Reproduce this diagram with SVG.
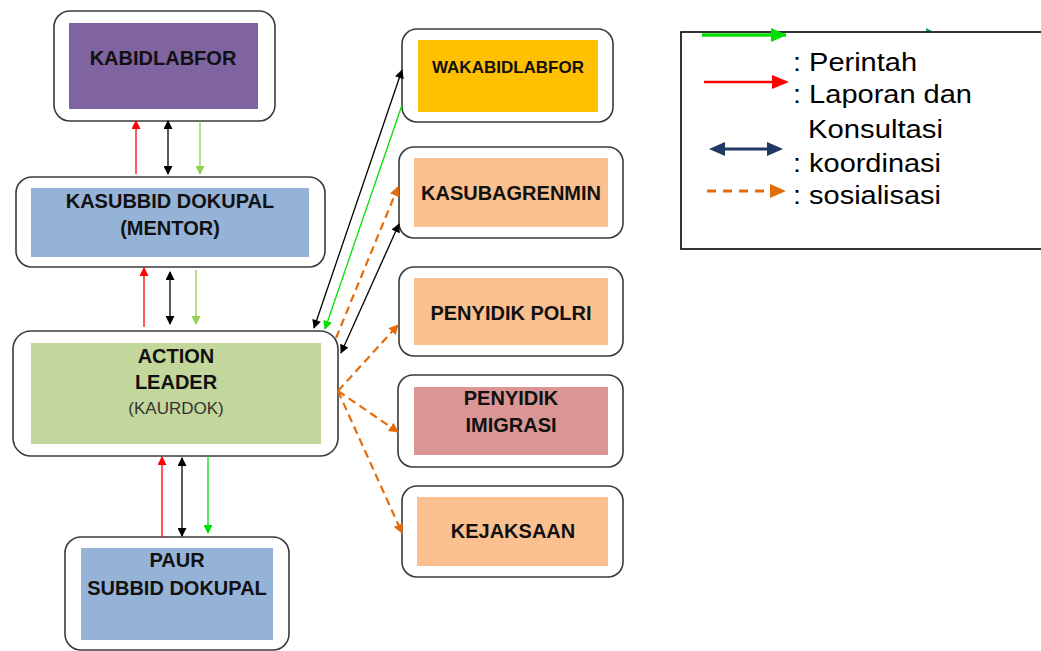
<svg xmlns="http://www.w3.org/2000/svg" width="1041" height="651" viewBox="0 0 1041 651">
<style>
.outer{fill:#fff;stroke:#3a3a3a;stroke-width:1.6}
.t{font-family:"Liberation Sans",Arial,sans-serif;font-weight:bold;font-size:20px;fill:#111;text-anchor:middle}
.s{font-family:"Liberation Sans",Arial,sans-serif;font-size:17px;fill:#333;text-anchor:middle}
.lg{font-family:"Liberation Sans",Arial,sans-serif;font-size:25px;fill:#000}
.red{stroke:#ff0000;stroke-width:1.3;fill:none}
.blk{stroke:#000;stroke-width:1.3;fill:none}
.lgr{stroke:#92d050;stroke-width:1.3;fill:none}
.bgr{stroke:#00e000;stroke-width:1.3;fill:none}
.org{stroke:#e46c0a;stroke-width:2.2;stroke-dasharray:8,5;fill:none}
</style>
<defs>
<marker id="mr" viewBox="0 0 10 10" refX="9" refY="5" markerWidth="10" markerHeight="9" markerUnits="userSpaceOnUse" orient="auto-start-reverse"><path d="M0,0L10,5L0,10z" fill="#ff0000"/></marker>
<marker id="mk" viewBox="0 0 10 10" refX="9" refY="5" markerWidth="10" markerHeight="9" markerUnits="userSpaceOnUse" orient="auto-start-reverse"><path d="M0,0L10,5L0,10z" fill="#000"/></marker>
<marker id="mlg" viewBox="0 0 10 10" refX="9" refY="5" markerWidth="10" markerHeight="9" markerUnits="userSpaceOnUse" orient="auto-start-reverse"><path d="M0,0L10,5L0,10z" fill="#92d050"/></marker>
<marker id="mbg" viewBox="0 0 10 10" refX="9" refY="5" markerWidth="10" markerHeight="9" markerUnits="userSpaceOnUse" orient="auto-start-reverse"><path d="M0,0L10,5L0,10z" fill="#00e000"/></marker>
<marker id="mo" viewBox="0 0 10 10" refX="9" refY="5" markerWidth="10" markerHeight="10" markerUnits="userSpaceOnUse" orient="auto-start-reverse"><path d="M0,0L10,5L0,10z" fill="#e46c0a"/></marker>
</defs>
<rect width="1041" height="651" fill="#fff"/>

<g id="kabidlabfor">
<rect class="outer" x="54" y="11" width="221" height="110" rx="16"/>
<rect x="69" y="23" width="189" height="86" fill="#8064a2"/>
<text class="t" x="163" y="65">KABIDLABFOR</text>
</g>
<g id="kasubbid">
<rect class="outer" x="16" y="177" width="309" height="90" rx="16"/>
<rect x="31" y="188" width="278" height="69" fill="#95b3d7"/>
<text class="t" x="170" y="208">KASUBBID DOKUPAL</text>
<text class="t" x="170" y="235">(MENTOR)</text>
</g>
<g id="action-leader">
<rect class="outer" x="13" y="331" width="325" height="125" rx="18"/>
<rect x="31" y="343" width="290" height="101" fill="#c3d69b"/>
<text class="t" x="176" y="363">ACTION</text>
<text class="t" x="176" y="389">LEADER</text>
<text class="s" x="176" y="414">(KAURDOK)</text>
</g>
<g id="paur">
<rect class="outer" x="65" y="537" width="224" height="113" rx="16"/>
<rect x="81" y="548" width="192" height="92" fill="#95b3d7"/>
<text class="t" x="177" y="567">PAUR</text>
<text class="t" x="177" y="595">SUBBID DOKUPAL</text>
</g>
<g id="wakabidlabfor">
<rect class="outer" x="402" y="29" width="211" height="93" rx="15"/>
<rect x="418" y="40" width="180" height="72" fill="#ffc000"/>
<text class="t" x="508" y="73" style="font-size:17px">WAKABIDLABFOR</text>
</g>
<g id="kasubagrenmin">
<rect class="outer" x="399" y="147" width="224" height="91" rx="15"/>
<rect x="414" y="158" width="194" height="69" fill="#fac090"/>
<text class="t" x="511" y="200">KASUBAGRENMIN</text>
</g>
<g id="penyidik-polri">
<rect class="outer" x="399" y="267" width="224" height="89" rx="15"/>
<rect x="414" y="278" width="194" height="67" fill="#fac090"/>
<text class="t" x="511" y="320">PENYIDIK POLRI</text>
</g>
<g id="penyidik-imigrasi">
<rect class="outer" x="398" y="375" width="225" height="92" rx="15"/>
<rect x="414" y="387" width="194" height="68" fill="#d99694"/>
<text class="t" x="511" y="405">PENYIDIK</text>
<text class="t" x="511" y="432">IMIGRASI</text>
</g>
<g id="kejaksaan">
<rect class="outer" x="402" y="486" width="221" height="91" rx="15"/>
<rect x="417" y="497" width="191" height="69" fill="#fac090"/>
<text class="t" x="513" y="538">KEJAKSAAN</text>
</g>

<g id="connectors">
<line class="red" x1="136" y1="174" x2="136" y2="121" marker-end="url(#mr)"/>
<line class="blk" x1="168" y1="121" x2="168" y2="174" marker-start="url(#mk)" marker-end="url(#mk)"/>
<line class="lgr" x1="200" y1="121" x2="200" y2="174" marker-end="url(#mlg)"/>
<line class="red" x1="144" y1="327" x2="144" y2="268" marker-end="url(#mr)"/>
<line class="blk" x1="170" y1="272" x2="170" y2="324" marker-start="url(#mk)" marker-end="url(#mk)"/>
<line class="lgr" x1="196" y1="270" x2="196" y2="324" marker-end="url(#mlg)"/>
<line class="red" x1="162" y1="537" x2="162" y2="457" marker-end="url(#mr)"/>
<line class="blk" x1="182" y1="458" x2="182" y2="536" marker-start="url(#mk)" marker-end="url(#mk)"/>
<line class="bgr" x1="208" y1="456" x2="208" y2="533" marker-end="url(#mbg)"/>
<line class="blk" x1="314" y1="328" x2="402" y2="70" marker-start="url(#mk)" marker-end="url(#mk)"/>
<line class="bgr" x1="402" y1="105" x2="325" y2="329" marker-end="url(#mbg)"/>
<line class="org" x1="336" y1="338" x2="398" y2="187" marker-end="url(#mo)"/>
<line class="blk" x1="341" y1="353" x2="399" y2="224" marker-start="url(#mk)" marker-end="url(#mk)"/>
<line class="org" x1="338" y1="391" x2="398" y2="325" marker-end="url(#mo)"/>
<line class="org" x1="338" y1="391" x2="398" y2="432" marker-end="url(#mo)"/>
<line class="org" x1="338" y1="391" x2="402" y2="533" marker-end="url(#mo)"/>
</g>

<g id="legend">
<polygon points="926,28 932,31 926,32" fill="#00b050"/>
<rect x="681" y="32" width="400" height="217" fill="none" stroke="#000" stroke-width="1.6"/>
<line x1="702" y1="35" x2="786" y2="35" stroke="#00e000" stroke-width="3.5"/>
<path d="M771,28L787,35L771,42z" fill="#00e000"/>
<line x1="704" y1="82" x2="778" y2="82" stroke="#ff0000" stroke-width="2.5"/>
<path d="M772,75L789,82L772,89z" fill="#ff0000"/>
<line x1="715" y1="149" x2="778" y2="149" stroke="#1f3864" stroke-width="3"/>
<path d="M709,149L725,142L725,156z" fill="#1f3864"/>
<path d="M783,149L767,142L767,156z" fill="#1f3864"/>
<line x1="707" y1="191" x2="774" y2="191" stroke="#e46c0a" stroke-width="3" stroke-dasharray="9,7"/>
<path d="M770,184L786,191L770,198z" fill="#e46c0a"/>
<text class="lg" x="793" y="71" textLength="124" lengthAdjust="spacingAndGlyphs">: Perintah</text>
<text class="lg" x="793" y="103" textLength="179" lengthAdjust="spacingAndGlyphs">: Laporan dan</text>
<text class="lg" x="808" y="138" textLength="135" lengthAdjust="spacingAndGlyphs">Konsultasi</text>
<text class="lg" x="793" y="172" textLength="148" lengthAdjust="spacingAndGlyphs">: koordinasi</text>
<text class="lg" x="793" y="204" textLength="148" lengthAdjust="spacingAndGlyphs">: sosialisasi</text>
</g>
</svg>
